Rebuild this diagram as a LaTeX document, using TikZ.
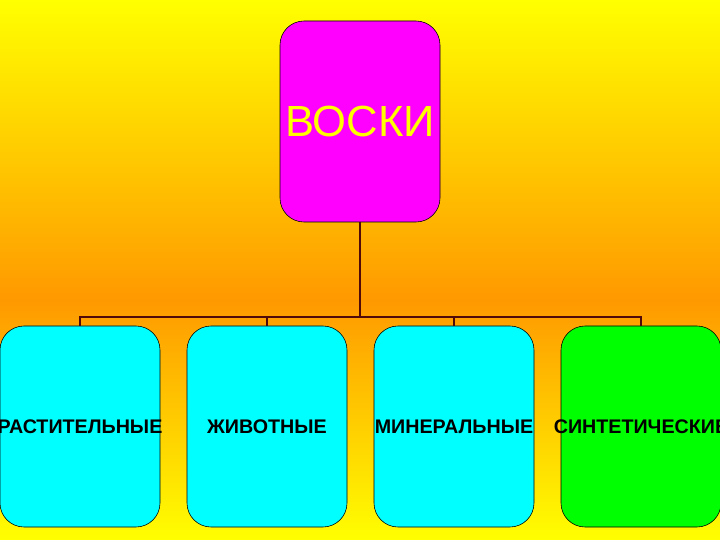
\documentclass[tikz,border=0pt]{standalone}
\usepackage{fontspec}
\setmainfont{Liberation Sans}
\usepackage{xcolor}
\usepackage{tikz}
\usetikzlibrary{positioning}

\definecolor{bgorange}{RGB}{255,153,0}
\definecolor{bgyellow}{RGB}{255,255,0}
\definecolor{rootpink}{RGB}{255,0,255}
\definecolor{kindcyan}{RGB}{0,255,255}
\definecolor{synthgreen}{RGB}{0,255,0}
\definecolor{wire}{RGB}{80,10,10}

\begin{document}
\begin{tikzpicture}[
  box/.style={draw, rounded corners=0.6cm, minimum width=4cm, minimum height=5.025cm, inner sep=0pt, outer sep=0pt},
  root/.style={box, fill=rootpink, text=bgyellow, font=\fontsize{31}{35}\selectfont},
  kind/.style={box, fill=kindcyan, font=\fontsize{14}{16}\selectfont\bfseries},
  synth/.style={kind, fill=synthgreen},
  link/.style={draw=wire, line width=1.4pt}
]
\useasboundingbox (0,0) rectangle (18,13.5);
\clip (0,0) rectangle (18,13.5);

% Background
\shade[top color=bgyellow, bottom color=bgorange] (0,6) rectangle (18,13.5);
\shade[top color=bgorange, bottom color=bgyellow] (0,0) rectangle (18,6);

% Top node
\node[root] (waxes) at (9,10.4625) {\raisebox{-0.08cm}{ВОСКИ}};

% Kinds
\node[kind] (plant) at (2,2.8375) {\makebox[0pt]{РАСТИТЕЛЬНЫЕ}};
\node[kind, right=0.675cm of plant] (animal) {\makebox[0pt]{ЖИВОТНЫЕ}};
\node[kind, right=0.675cm of animal] (mineral) {\makebox[0pt]{МИНЕРАЛЬНЫЕ}};
\node[synth, right=0.675cm of mineral] (synthetic) {\makebox[0pt]{СИНТЕТИЧЕСКИЕ}};

% Tree lines
\coordinate (bus) at (9,5.575);
\draw[link] (waxes.south) -- (bus);
\foreach \k in {plant,animal,mineral,synthetic}
  \draw[link] (\k.north) |- (bus);
\end{tikzpicture}
\end{document}
